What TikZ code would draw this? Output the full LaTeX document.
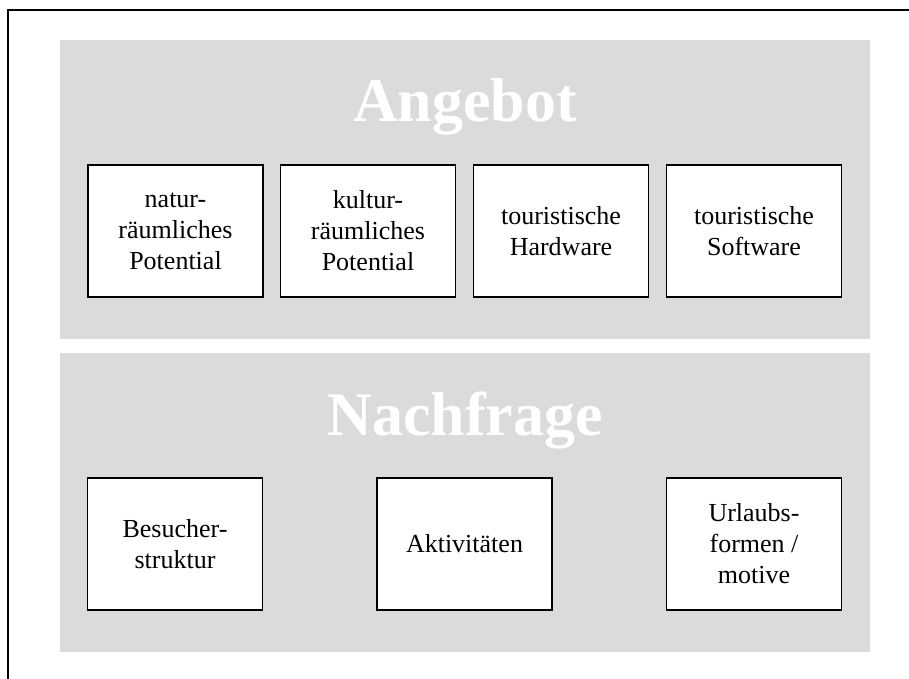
\documentclass[tikz,border=0pt]{standalone}
\usepackage{fontspec}
\setmainfont{Liberation Serif}
\definecolor{panelgray}{RGB}{219,219,219}
\tikzset{
  panel/.style={fill=panelgray, draw=none},
  itembox/.style={draw=black, fill=white, line width=1.5pt, minimum width=175pt,
    minimum height=132pt, align=center, inner sep=0pt,
    font=\fontsize{26}{31}\selectfont},
  paneltitle/.style={text=white, anchor=base, inner sep=0pt,
    font=\fontsize{62}{70}\selectfont\bfseries}
}
\begin{document}
\begin{tikzpicture}[x=1pt, y=-1pt]
  \useasboundingbox (0,0) rectangle (909,679);
  % outer frame (top and left edges)
  \draw[line width=2.5pt] (909,10) -- (8,10) -- (8,679);
  % panels
  \fill[panel] (60,40) rectangle (870,339);
  \fill[panel] (60,353) rectangle (870,652);
  % titles
  \node[paneltitle] (angebot) at (465,122) {Angebot};
  \node[paneltitle] (nachfrage) at (465,435) {Nachfrage};
  % supply side
  \node[itembox] (natur) at (175.5,231) {natur-\\räumliches\\Potential};
  \node[itembox] (kultur) at (368,231) {kultur-\\räumliches\\Potential};
  \node[itembox] (hardware) at (561,231) {touristische\\Hardware};
  \node[itembox] (software) at (754,231) {touristische\\Software};
  % demand side
  \node[itembox] (besucher) at (175,544) {Besucher-\\struktur};
  \node[itembox] (aktiv) at (464.5,544) {Aktivitäten};
  \node[itembox] (urlaub) at (754,544) {Urlaubs-\\formen /\\motive};
\end{tikzpicture}
\end{document}
